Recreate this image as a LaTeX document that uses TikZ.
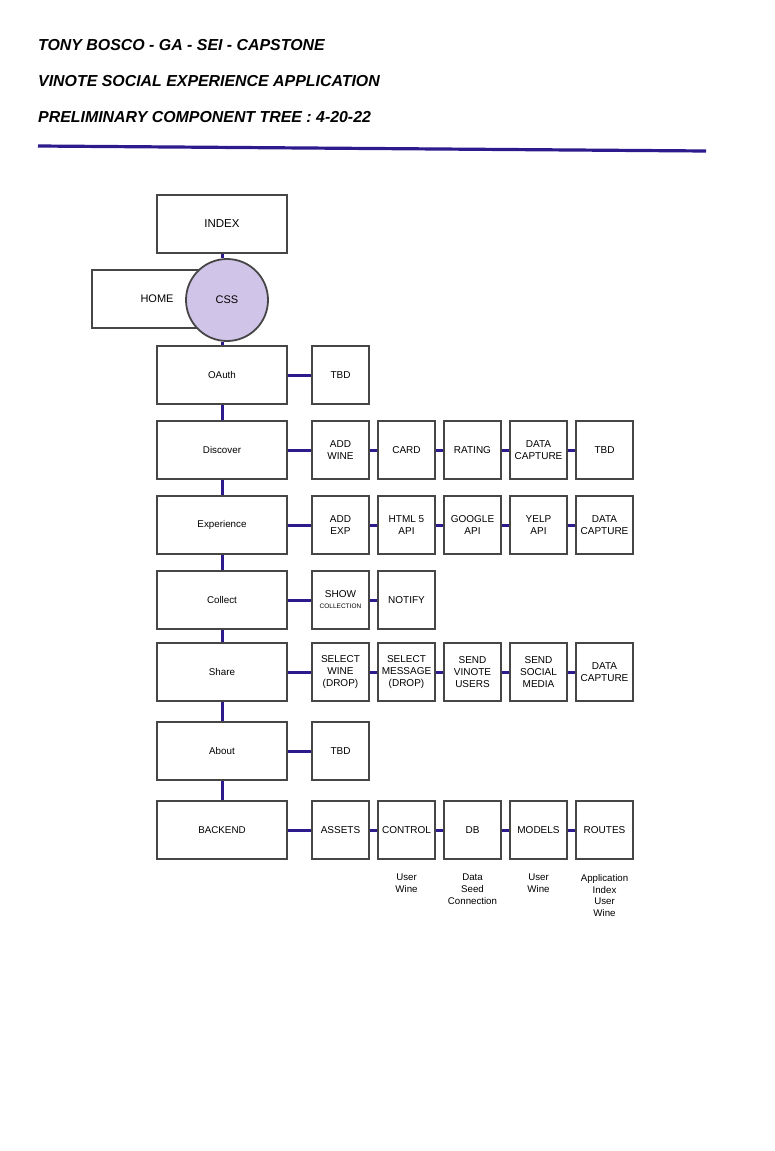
\documentclass[tikz,border=0pt]{standalone}
\usepackage{fontspec}
\setmainfont{Liberation Sans}
\usetikzlibrary{positioning,backgrounds}
\definecolor{linkblue}{RGB}{46,26,140}
\definecolor{boxgray}{RGB}{70,70,70}
\definecolor{csslilac}{RGB}{209,196,233}

\tikzset{
  bigbox/.style={draw=boxgray, line width=1.8pt, minimum width=130pt, minimum height=58pt, inner sep=0pt, font=\fontsize{9.8}{11}\selectfont},
  smallbox/.style={draw=boxgray, line width=1.8pt, minimum width=57pt, minimum height=58pt, inner sep=0pt, align=center, font=\fontsize{10}{12}\selectfont},
  link/.style={draw=linkblue, line width=3pt},
  titleline/.style={anchor=base west, inner sep=0pt, font=\fontsize{15.9}{18}\selectfont\bfseries\itshape},
  note/.style={anchor=north, align=center, inner sep=0pt, font=\fontsize{9.7}{11.8}\selectfont}
}

\begin{document}
\begin{tikzpicture}[x=1pt,y=-1pt]
 \useasboundingbox (0,0) rectangle (774,1151);

 % heading
 \node[titleline] (title1) at (38,50) {TONY BOSCO - GA - SEI - CAPSTONE};
 \node[titleline] (title2) at (38,86) {VINOTE SOCIAL EXPERIENCE APPLICATION};
 \node[titleline] (title3) at (38,122) {PRELIMINARY COMPONENT TREE : 4-20-22};
 \draw[linkblue, line width=3.2pt] (38,146) -- (706,151);

 % main column
 \node[bigbox, font=\fontsize{11.5}{13}\selectfont] (index) at (222,224) {INDEX};
 \node[bigbox, font=\fontsize{11}{13}\selectfont] (home) at (157,299) {HOME};
 \node[circle, draw=boxgray, fill=csslilac, line width=1.8pt, minimum size=82pt, inner sep=0pt, font=\fontsize{11}{13}\selectfont] (css) at (227,300) {CSS};
 \node[bigbox] (oauth) at (222,375) {OAuth};
 \node[bigbox] (discover) at (222,450) {Discover};
 \node[bigbox] (experience) at (222,525) {Experience};
 \node[bigbox] (collect) at (222,600) {Collect};
 \node[bigbox] (share) at (222,672) {Share};
 \node[bigbox] (about) at (222,751) {About};
 \node[bigbox] (backend) at (222,830) {BACKEND};

 % component rows
 \node[smallbox] (oauth1) at (340.5,375) {TBD};
 \foreach \txt [count=\i] in {{ADD\\WINE}, CARD, RATING, {DATA\\CAPTURE}, TBD}
   \node[smallbox] (disc\i) at (274.5+66*\i,450) {\txt};
 \foreach \txt [count=\i] in {{ADD\\EXP}, {HTML 5\\API}, {GOOGLE\\API}, {YELP\\API}, {DATA\\CAPTURE}}
   \node[smallbox] (exp\i) at (274.5+66*\i,525) {\txt};
 \node[smallbox] (coll1) at (340.5,600) {SHOW\\[-1pt]{\fontsize{6.5}{7}\selectfont COLLECTION}};
 \node[smallbox] (coll2) at (406.5,600) {NOTIFY};
 \foreach \txt [count=\i] in {{SELECT\\WINE\\(DROP)}, {SELECT\\MESSAGE\\(DROP)}, {SEND\\VINOTE\\USERS}, {SEND\\SOCIAL\\MEDIA}, {DATA\\CAPTURE}}
   \node[smallbox] (share\i) at (274.5+66*\i,672) {\txt};
 \node[smallbox] (about1) at (340.5,751) {TBD};
 \foreach \txt [count=\i] in {ASSETS, CONTROL, DB, MODELS, ROUTES}
   \node[smallbox] (back\i) at (274.5+66*\i,830) {\txt};

 % backend notes
 \node[note] (ctrlnote) at (406.5,874) {User\\Wine};
 \node[note] (dbnote) at (472.5,874) {Data\\Seed\\Connection};
 \node[note] (modelnote) at (538.5,874) {User\\Wine};
 \node[note] (routenote) at (604.5,874) {Application\\Index\\User\\Wine};

 \begin{scope}[on background layer]
  \draw[link] (index.south) -- (index.south |- css.north);
  \draw[link] (css.south -| oauth.north) -- (oauth.north);
  \foreach \a/\b in {oauth/discover, discover/experience, experience/collect, collect/share, share/about, about/backend}
    \draw[link] (\a) -- (\b);
  \draw[link] (oauth) -- (oauth1);
  \draw[link] (discover) -- (disc1);
  \draw[link] (experience) -- (exp1);
  \draw[link] (collect) -- (coll1);
  \draw[link] (coll1) -- (coll2);
  \draw[link] (share) -- (share1);
  \draw[link] (about) -- (about1);
  \draw[link] (backend) -- (back1);
  \foreach \i/\j in {1/2, 2/3, 3/4, 4/5} {
    \draw[link] (disc\i) -- (disc\j);
    \draw[link] (exp\i) -- (exp\j);
    \draw[link] (share\i) -- (share\j);
    \draw[link] (back\i) -- (back\j);
  }
 \end{scope}
\end{tikzpicture}
\end{document}
